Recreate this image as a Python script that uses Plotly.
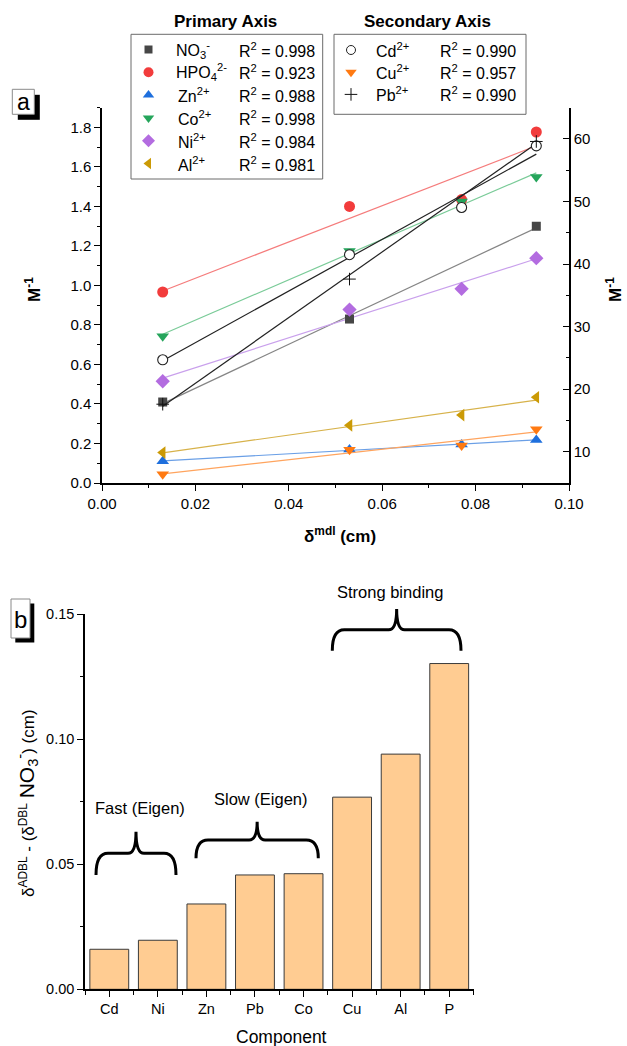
import numpy as np
import plotly.graph_objects as go

W, H = 627, 1046
FONT = "Arial, Liberation Sans, sans-serif"

# ---------------- panel (a) data ----------------
delta_mdl = [0.013, 0.053, 0.077, 0.093]          # cm

# primary axis (M^-1)
no3 = [0.41, 0.83, None, 1.30]
hpo4 = [0.967, 1.40, 1.435, 1.777]
zn = [0.11, 0.17, 0.195, 0.218]
co = [0.743, 1.175, 1.425, 1.549]
ni = [0.515, 0.878, 0.983, 1.138]
al = [0.154, 0.292, 0.344, 0.434]

# secondary axis (M^-1)
cd = [24.7, 41.5, 49.05, 58.9]
cu = [6.4, 10.3, 11.0, 13.6]
pb = [17.6, 37.6, None, 59.6]

primary_labels = ["NO<sub>3</sub><sup>-</sup>", "HPO<sub>4</sub><sup>2-</sup>",
                  "Zn<sup>2+</sup>", "Co<sup>2+</sup>", "Ni<sup>2+</sup>", "Al<sup>2+</sup>"]
primary_r2 = ["0.998", "0.923", "0.988", "0.998", "0.984", "0.981"]
secondary_labels = ["Cd<sup>2+</sup>", "Cu<sup>2+</sup>", "Pb<sup>2+</sup>"]
secondary_r2 = ["0.990", "0.957", "0.990"]

# ---------------- panel (b) data ----------------
components = ["Cd", "Ni", "Zn", "Pb", "Co", "Cu", "Al", "P"]
delta_diff = [0.016, 0.0196, 0.0341, 0.0457, 0.0462, 0.0768, 0.094, 0.1302]

group_names = ["Fast (Eigen)", "Slow (Eigen)", "Strong binding"]

# series styling: values, y-axis, symbol, marker colour, line colour, size
primary_series = [
    (no3, "y", "square", "#464646", "#858585", 9),
    (hpo4, "y", "circle", "#F23C3C", "#F57C7C", 11),
    (zn, "y", "triangle-up", "#1E6FDD", "#6A9FE6", 11),
    (co, "y", "triangle-down", "#25A55B", "#7ACB98", 11),
    (ni, "y", "diamond", "#B36CE0", "#C9A0EC", 11),
    (al, "y", "triangle-left", "#CB9A06", "#D7B24A", 11),
]
secondary_series = [
    (cd, "y2", "circle", "white", "#222222", 11),
    (cu, "y2", "triangle-down", "#FF7A12", "#FFA45E", 11),
    (pb, "y2", "cross-thin", "#111111", "#222222", 9),
]

fig = go.Figure()

# least-squares fit lines
for vals, yax, sym, mcol, lcol, size in primary_series + secondary_series:
    xs = np.array([x for x, v in zip(delta_mdl, vals) if v is not None])
    ys = np.array([v for v in vals if v is not None])
    k, b = np.polyfit(xs, ys, 1)
    xl = np.array([xs.min(), xs.max()])
    fig.add_trace(go.Scatter(x=xl, y=k * xl + b, mode="lines", xaxis="x", yaxis=yax,
                             line=dict(color=lcol, width=1.2), hoverinfo="skip"))

# data markers
for vals, yax, sym, mcol, lcol, size in primary_series + secondary_series:
    xs = [x for x, v in zip(delta_mdl, vals) if v is not None]
    ys = [v for v in vals if v is not None]
    if sym == "cross-thin":
        mk = dict(symbol=sym, size=size, line=dict(color=mcol, width=1))
    elif mcol == "white":
        mk = dict(symbol=sym, size=size - 1, color="white", line=dict(color=lcol, width=1.1))
    else:
        mk = dict(symbol=sym, size=size, color=mcol, line=dict(width=0))
    fig.add_trace(go.Scatter(x=xs, y=ys, mode="markers", xaxis="x", yaxis=yax, marker=mk))

# ---------------- panel (b) bars ----------------
fig.add_trace(go.Bar(x=list(range(len(components))), y=delta_diff, width=0.8,
                     xaxis="x3", yaxis="y3",
                     marker=dict(color="#FFCC92", line=dict(color="#3a3a3a", width=1))))

# ---------------- legend glyphs (pixel canvas) ----------------
row0, drow = 49.5, 22.8
for i, (vals, yax, sym, mcol, lcol, size) in enumerate(primary_series):
    fig.add_trace(go.Scatter(x=[148.5], y=[row0 + i * drow], mode="markers",
                             xaxis="x4", yaxis="y4", cliponaxis=False,
                             marker=dict(symbol=sym, size=size - 1, color=mcol, line=dict(width=0))))
for i, (vals, yax, sym, mcol, lcol, size) in enumerate(secondary_series):
    if sym == "cross-thin":
        mk = dict(symbol=sym, size=size, line=dict(color=mcol, width=1))
    elif mcol == "white":
        mk = dict(symbol=sym, size=size - 2, color="white", line=dict(color=lcol, width=1))
    else:
        mk = dict(symbol=sym, size=size - 1, color=mcol, line=dict(width=0))
    fig.add_trace(go.Scatter(x=[351], y=[row0 + 0.5 + i * 22.2], mode="markers",
                             xaxis="x4", yaxis="y4", cliponaxis=False, marker=mk))

annotations = []
shapes = []


def text(x, y, s, size=16, anchor="center", angle=0, bold=False, valign="middle"):
    if bold:
        s = "<b>" + s + "</b>"
    annotations.append(dict(x=x, y=y, xref="x4", yref="y4", text=s, showarrow=False,
                            xanchor=anchor, yanchor=valign, textangle=angle,
                            font=dict(family=FONT, size=size, color="black")))


# legend boxes and entries
text(225, 21.5, "Primary Axis", size=17, bold=True)
text(427.5, 21.5, "Secondary Axis", size=17, bold=True)
shapes.append(dict(type="rect", xref="x4", yref="y4", x0=131, x1=322.7, y0=34.3, y1=179,
                   line=dict(color="#6b6b6b", width=1), fillcolor="rgba(0,0,0,0)"))
shapes.append(dict(type="rect", xref="x4", yref="y4", x0=334, x1=526, y0=34.3, y1=114.3,
                   line=dict(color="#6b6b6b", width=1), fillcolor="rgba(0,0,0,0)"))
for i, (lab, r2) in enumerate(zip(primary_labels, primary_r2)):
    y = row0 + i * drow
    text(173.5 if i < 2 else 176, y, lab, anchor="left")
    text(236.5, y, "R<sup>2</sup> = " + r2, anchor="left")
for i, (lab, r2) in enumerate(zip(secondary_labels, secondary_r2)):
    y = row0 + 0.5 + i * 22.2
    text(373.5, y, lab, anchor="left")
    text(437.5, y, "R<sup>2</sup> = " + r2, anchor="left")

# panel letters with drop shadow
for (bx0, by0, bx1, by1, dx, dy, letter, fs) in [(12.3, 89.3, 34.3, 114.3, 5.5, 5.5, "a", 23),
                                                  (11, 599, 30, 638, 4.3, 4.5, "b", 24)]:
    shapes.append(dict(type="rect", xref="x4", yref="y4", x0=bx0 + dx, x1=bx1 + dx,
                       y0=by0 + dy, y1=by1 + dy, line=dict(width=0), fillcolor="black"))
    shapes.append(dict(type="rect", xref="x4", yref="y4", x0=bx0, x1=bx1, y0=by0, y1=by1,
                       line=dict(color="#8a8a8a", width=1), fillcolor="white"))
    text((bx0 + bx1) / 2, (by0 + by1) / 2 + 0.5, letter, size=fs)

# axis titles
text(340, 535, "δ<sup>mdl</sup> (cm)", size=17, bold=True)
text(33, 290, "M<sup>-1</sup>", size=17, bold=True, angle=-90)
text(614, 290, "M<sup>-1</sup>", size=17, bold=True, angle=-90)
text(26, 803, "δ<sup>ADBL</sup> - (δ<sup>DBL</sup> <span style='font-size:21px'>NO<sub>3</sub><sup>-</sup></span>) (cm)",
     size=17, angle=-90)
text(281, 1037, "Component", size=17.5)


# curly braces over the binding groups
def brace_path(x0, x1, yt, ye):
    ym = (yt + ye) / 2
    xc = (x0 + x1) / 2
    r = 12
    r2 = 8
    return (f"M {x0},{ye} Q {x0},{ym} {x0 + r},{ym} L {xc - r2},{ym} "
            f"Q {xc},{ym} {xc},{yt} Q {xc},{ym} {xc + r2},{ym} "
            f"L {x1 - r},{ym} Q {x1},{ym} {x1},{ye}")


bx_left, bx_right = 85, 473.5
# brace geometry in pixels: left, right, tip, ends, label centre x, label centre y
brace_geom = {"Fast (Eigen)": (96, 176, 831.7, 875, 139.7, 808),
              "Slow (Eigen)": (196, 318.3, 821.7, 858.3, 261, 799.3),
              "Strong binding": (332.3, 461, 609, 650.7, 390, 592)}
for name in group_names:
    x0, x1, yt, ye, lx, ly = brace_geom[name]
    shapes.append(dict(type="path", xref="x4", yref="y4", path=brace_path(x0, x1, yt, ye),
                       line=dict(color="black", width=3)))
    text(lx, ly, name, size=16.5)

axis_common = dict(showline=True, linecolor="black", linewidth=1.5, showgrid=False,
                   zeroline=False, tickcolor="black", tickwidth=1.3, automargin=False,
                   tickfont=dict(family=FONT, size=15, color="black"))
small_ticks = dict(family=FONT, size=14.5, color="black")

fig.update_layout(
    width=W, height=H, autosize=False,
    margin=dict(l=0, r=0, t=0, b=0, pad=0, autoexpand=False),
    paper_bgcolor="white", plot_bgcolor="rgba(0,0,0,0)",
    showlegend=False,
    xaxis=dict(domain=[102 / W, 569 / W], anchor="y", range=[0, 0.10], tick0=0, dtick=0.02,
               tickformat=".2f", ticks="outside", ticklen=6,
               minor=dict(dtick=0.01, ticks="outside", ticklen=3, tickcolor="black"),
               **axis_common),
    yaxis=dict(domain=[1 - 483 / H, 1 - 107.7 / H], anchor="x", range=[0, 1.9], tick0=0,
               dtick=0.2, tickformat=".1f", ticks="outside", ticklen=6,
               minor=dict(dtick=0.1, ticks="outside", ticklen=3, tickcolor="black"),
               **axis_common),
    yaxis2=dict(overlaying="y", side="right", anchor="x", range=[5, 65], tick0=0, dtick=10,
                ticks="inside", ticklen=6,
                minor=dict(dtick=5, ticks="inside", ticklen=3, tickcolor="black"),
                **axis_common),
    xaxis3=dict(domain=[bx_left / W, bx_right / W], anchor="y3", range=[-0.5, 7.5],
                tickvals=list(range(len(components))), ticktext=components,
                ticks="outside", ticklen=6,
                minor=dict(tick0=0.5, dtick=1, ticks="outside", ticklen=4, tickcolor="black"),
                **{**axis_common, "tickfont": small_ticks}),
    yaxis3=dict(domain=[1 - 989.3 / H, 1 - 614 / H], anchor="x3", range=[0, 0.15], tick0=0,
                dtick=0.05, tickformat=".2f", ticks="outside", ticklen=6,
                minor=dict(dtick=0.025, ticks="outside", ticklen=3, tickcolor="black"),
                **{**axis_common, "tickfont": small_ticks}),
    xaxis4=dict(domain=[0, 1], anchor="y4", range=[0, W], visible=False, fixedrange=True,
                automargin=False),
    yaxis4=dict(domain=[0, 1], anchor="x4", range=[H, 0], visible=False, fixedrange=True,
                automargin=False),
    annotations=annotations,
    shapes=shapes,
)

fig.write_html("out.html")
